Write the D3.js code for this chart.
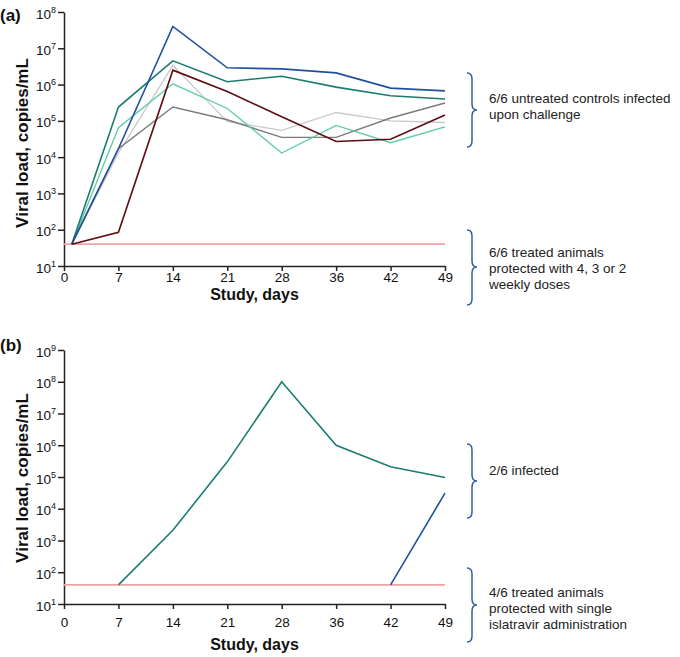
<!DOCTYPE html>
<html>
<head>
<meta charset="utf-8">
<script src="https://cdn.jsdelivr.net/npm/d3@7"></script>
<style>
  body { margin: 0; background: #fff; }
  svg { display: block; font-family: "Liberation Sans", Arial, sans-serif; }
</style>
</head>
<body>
<div id="chart"></div>
<script>
// study days shown on the x axis (evenly spaced on the figure)
const dayTicks = [0, 7, 14, 21, 28, 36, 42, 49];
const lloq = 40; // lower limit, copies/mL

// panel (a): untreated controls, sampled from day 1
const daysA = [1, 7, 14, 21, 28, 36, 42, 49];
const ctrlBlue      = [40, 1.7e4, 4.0e7, 2.9e6, 2.7e6, 2.1e6, 8.0e5, 6.7e5];
const ctrlTealDark  = [40, 2.4e5, 4.5e6, 1.2e6, 1.7e6, 8.5e5, 4.9e5, 4.0e5];
const ctrlTealLight = [40, 6.5e4, 1.05e6, 2.2e5, 1.3e4, 7.5e4, 2.5e4, 6.8e4];
const ctrlGrayLight = [40, 1.3e4, 3.4e6, 9.5e4, 5.5e4, 1.7e5, 1.0e5, 9.0e4];
const ctrlGrayDark  = [40, 1.7e4, 2.4e5, 1.07e5, 3.5e4, 3.5e4, 1.2e5, 3.1e5];
const ctrlDarkRed   = [40, 85, 2.5e6, 6.4e5, 1.3e5, 2.7e4, 3.1e4, 1.45e5];

// panel (b): single islatravir dose, 2 infected animals
const daysB1 = [7, 14, 21, 28, 36, 42, 49];
const infTeal = [40, 2.1e3, 3.0e5, 1.0e8, 1.0e6, 2.1e5, 9.6e4];
const daysB2 = [42, 49];
const infBlue = [40, 3.1e4];

const W = 680, H = 657;
const svg = d3.select('#chart').append('svg')
    .attr('width', W)
    .attr('height', H);

const xLeft = 64, xRight = 445;
const step = (xRight - xLeft) / (dayTicks.length - 1);
// polylinear scale so the uneven days sit on even spacing
const x = d3.scaleLinear()
    .domain(dayTicks)
    .range(dayTicks.map((d, i) => xLeft + i * step));

const colBlue = '#1f4f9e', colTealDark = '#1a7d70', colTealLight = '#5ccca6';
const colGrayLight = '#c9c9c9', colGrayDark = '#7b7b7b', colRed = '#5e0d12';
const colPink = '#f3a2a2', colBrace = '#2f5fa8';

function drawPanel(opts) {
    const g = svg.append('g');
    const y = d3.scaleLog()
        .domain([10, Math.pow(10, opts.maxExp)])
        .range([opts.yBottom, opts.yTop]);

    // x axis
    const xAxis = g.append('g')
        .attr('transform', `translate(0,${opts.yBottom})`)
        .call(d3.axisBottom(x).tickValues(dayTicks).tickSize(5).tickSizeOuter(0).tickFormat(d3.format('d')));
    xAxis.select('.domain').attr('stroke', '#222').attr('stroke-width', 1.5);
    xAxis.selectAll('.tick line').attr('stroke', '#222').attr('stroke-width', 1.5);
    xAxis.selectAll('.tick text')
        .attr('dy', null).attr('y', opts.tickLabelY)
        .style('font-size', '13.5px').style('fill', '#111')
        .style('font-family', '"Liberation Sans", Arial, sans-serif');

    // y axis, labels as 10^n
    const exps = d3.range(1, opts.maxExp + 1);
    const yAxis = g.append('g')
        .attr('transform', `translate(${xLeft},0)`)
        .call(d3.axisLeft(y).tickValues(exps.map(e => Math.pow(10, e))).tickSize(6).tickSizeOuter(0).tickFormat(''));
    yAxis.select('.domain').attr('stroke', '#222').attr('stroke-width', 1.5);
    yAxis.selectAll('.tick line').attr('stroke', '#222').attr('stroke-width', 1.5);
    yAxis.selectAll('.tick').each(function (d) {
        const t = d3.select(this).append('text')
            .attr('x', -8).attr('y', 6)
            .attr('text-anchor', 'end')
            .style('font-size', '13.5px').style('fill', '#111');
        t.append('tspan').text('10');
        t.append('tspan').attr('dy', -6).style('font-size', '9px').text(Math.round(Math.log10(d)));
    });

    // LLOQ line
    g.append('line')
        .attr('x1', x(0)).attr('x2', x(49))
        .attr('y1', y(lloq)).attr('y2', y(lloq))
        .attr('stroke', colPink).attr('stroke-width', 1.6);

    const line = d3.line()
        .x(d => x(d[0]))
        .y(d => y(d[1]));

    opts.series.forEach(s => {
        g.append('path')
            .datum(s.days.map((d, i) => [d, s.values[i]]))
            .attr('d', line)
            .attr('fill', 'none')
            .attr('stroke', s.color)
            .attr('stroke-width', s.width || 1.6)
            .attr('stroke-linejoin', 'miter');
    });

    // axis titles
    g.append('text')
        .attr('x', (xLeft + xRight) / 2)
        .attr('y', opts.yBottom + opts.titleY)
        .attr('text-anchor', 'middle')
        .style('font-size', '16px').style('font-weight', 'bold').style('fill', '#111')
        .text('Study, days');

    g.append('text')
        .attr('transform', `translate(28,${opts.yTitleMid}) rotate(-90)`)
        .attr('text-anchor', 'middle')
        .style('font-size', '17px').style('font-weight', 'bold').style('fill', '#111')
        .text('Viral load, copies/mL');

    g.append('text')
        .attr('x', 0).attr('y', opts.labelY)
        .style('font-size', '17px').style('font-weight', 'bold').style('fill', '#111')
        .text(opts.label);

    // braces with notes
    opts.notes.forEach(n => {
        drawBrace(g, 472, n.top, n.bottom, n.tip);
        const t = g.append('text')
            .attr('x', 489).attr('y', n.baseline)
            .style('font-size', '13.5px').style('fill', '#222');
        n.lines.forEach((l, i) => {
            t.append('tspan').attr('x', 489).attr('dy', i === 0 ? 0 : 16).text(l);
        });
    });
}

function drawBrace(g, x0, top, bottom, tip) {
    const w = 5, r = 6;
    const p = d3.path();
    p.moveTo(x0 - w, top);
    p.quadraticCurveTo(x0, top, x0, top + r);
    p.lineTo(x0, tip - r);
    p.quadraticCurveTo(x0, tip, x0 + w, tip);
    p.quadraticCurveTo(x0, tip, x0, tip + r);
    p.lineTo(x0, bottom - r);
    p.quadraticCurveTo(x0, bottom, x0 - w, bottom);
    g.append('path')
        .attr('d', p.toString())
        .attr('fill', 'none')
        .attr('stroke', colBrace)
        .attr('stroke-width', 1.5);
}

drawPanel({
    label: '(a)',
    labelY: 21,
    maxExp: 8,
    yTop: 12,
    yBottom: 266,
    yTitleMid: 143,
    tickLabelY: 16,
    titleY: 34,
    series: [
        { days: daysA, values: ctrlGrayLight, color: colGrayLight, width: 1.3 },
        { days: daysA, values: ctrlGrayDark, color: colGrayDark, width: 1.4 },
        { days: daysA, values: ctrlTealLight, color: colTealLight, width: 1.3 },
        { days: daysA, values: ctrlTealDark, color: colTealDark },
        { days: daysA, values: ctrlBlue, color: colBlue },
        { days: daysA, values: ctrlDarkRed, color: colRed }
    ],
    notes: [
        { top: 73, bottom: 147, tip: 110, baseline: 103, lines: ['6/6 untreated controls infected', 'upon challenge'] },
        { top: 230, bottom: 305, tip: 267, baseline: 257, lines: ['6/6 treated animals', 'protected with 4, 3 or 2', 'weekly doses'] }
    ]
});

drawPanel({
    label: '(b)',
    labelY: 351,
    maxExp: 9,
    yTop: 350,
    yBottom: 604,
    yTitleMid: 478,
    tickLabelY: 23,
    titleY: 46,
    series: [
        { days: daysB1, values: infTeal, color: colTealDark },
        { days: daysB2, values: infBlue, color: colBlue }
    ],
    notes: [
        { top: 444, bottom: 518, tip: 481, baseline: 475, lines: ['2/6 infected'] },
        { top: 568, bottom: 642, tip: 605, baseline: 597, lines: ['4/6 treated animals', 'protected with single', 'islatravir administration'] }
    ]
});
</script>
</body>
</html>
